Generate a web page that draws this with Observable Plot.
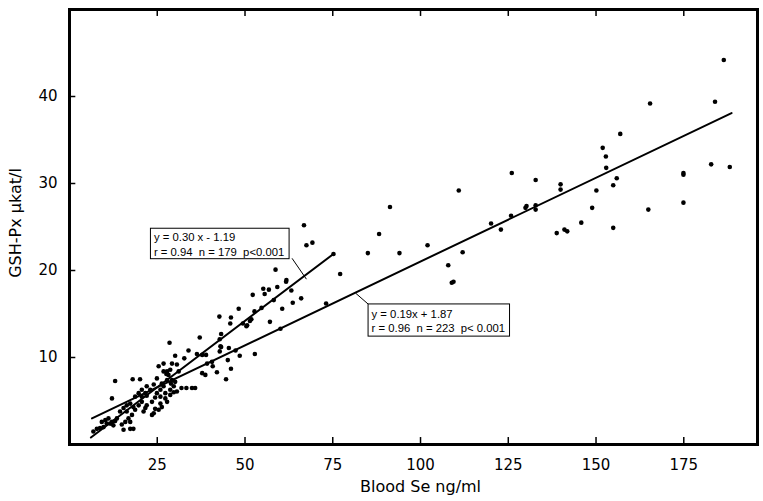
<!DOCTYPE html>
<html>
<head>
<meta charset="utf-8">
<script src="https://cdn.jsdelivr.net/npm/d3@7"></script>
<script src="https://cdn.jsdelivr.net/npm/@observablehq/plot@0.6"></script>
<style>
  html, body { margin: 0; padding: 0; background: white; }
</style>
</head>
<body>
<div id="chart"></div>
<script>
// Blood Se (ng/ml) vs GSH-Px (µkat/l)
const pointsX = [
  186.4,165.4,183.9,156.9,151.9,152.8,152.9,155.9,154.9,150.1,148.9,145.8,154.9,141.8,141.0,138.8,139.9,139.9,132.8,132.8,132.8,129.9,130.2,126.0,125.8,164.9,174.9,174.9,174.9,182.8,188.1,
  110.9,91.3,88.2,102.0,85.0,94.0,75.2,77.1,112.0,107.9,108.9,109.4,120.1,122.9,
  66.8,67.5,69.2,58.7,61.8,61.7,55.2,56.8,59.2,55.6,52.2,63.2,66.0,63.6,58.2,60.6,54.7,52.7,48.2,46.0,42.7,45.8,51.8,51.4,49.4,50.6,57.1,60.1,43.2,42.8,37.1,43.2,45.4,33.9,73.1,
  13.0,18.0,20.1,12.1,28.5,30.1,29.2,30.6,27.8,28.7,31.1,32.7,36.3,37.8,38.9,39.2,40.6,37.8,38.7,40.8,42.0,44.6,46.0,45.1,42.8,43.0,47.3,48.5,50.4,52.8,
  24.9,26.3,28.2,24.0,22.0,20.6,23.0,21.6,19.7,18.7,24.4,25.9,27.3,28.7,29.7,30.6,31.9,33.3,34.9,28.7,27.8,25.9,23.5,22.0,24.4,23.5,21.1,20.6,19.7,18.2,17.3,16.3,15.4,14.4,16.3,17.8,16.8,15.9,17.3,15.4,17.3,18.2,14.9,13.0,12.1,11.1,10.2,9.2,10.6,9.7,8.7,7.8,6.8,12.5,11.6,13.5,29.2,30.1,28.9,29.7,35.8,25.9,24.9,27.3,26.8,22.0,20.6,25.4,26.3,24.0,21.6,18.7,27.6,26.8,27.8,25.4,26.8
];
const pointsY = [
  44.2,39.2,39.4,35.7,34.1,33.1,31.8,30.6,29.8,29.2,27.2,25.5,24.9,24.5,24.7,24.3,29.9,29.3,30.4,27.5,27.0,27.2,27.4,31.2,26.3,27.0,31.2,31.0,27.8,32.2,31.9,
  29.2,27.3,24.2,22.9,22.0,22.0,21.9,19.6,22.1,20.6,18.6,18.7,25.4,24.7,
  25.2,22.9,23.2,20.1,18.9,18.7,17.9,17.8,18.1,17.3,17.2,17.7,16.8,16.3,16.6,15.6,15.7,15.3,15.6,14.6,14.7,13.9,14.4,14.2,13.9,13.7,14.1,13.3,12.7,12.1,12.3,11.2,11.1,10.8,16.2,
  7.3,7.5,7.5,5.3,11.7,10.2,9.3,9.2,8.4,8.6,8.4,9.9,10.4,10.3,10.3,9.3,9.5,8.2,8.0,9.0,8.3,7.5,8.7,9.7,10.7,11.3,10.8,10.2,13.6,10.4,
  7.6,7.0,8.0,6.9,6.7,6.3,6.3,5.9,5.9,5.5,5.4,5.5,5.3,5.7,6.0,6.1,6.5,6.5,6.5,6.3,4.9,4.7,4.9,4.5,4.1,3.4,3.8,4.9,4.5,4.3,4.7,4.5,4.2,3.8,3.8,3.4,3.0,2.6,2.6,1.7,1.8,1.8,2.3,2.7,2.6,3.0,2.8,2.6,2.4,2.0,1.9,1.8,1.5,2.2,2.4,3.0,7.4,7.2,7.0,6.7,6.5,6.3,5.9,5.9,6.7,5.6,5.5,4.0,4.3,3.6,4.2,4.0,8.1,8.4,7.4,9.0,9.3
];

// Regression lines (end points)
const fitSteepX = [6.1, 75.2];
const fitSteepY = [0.8, 21.9];
const fitFlatX = [6.4, 188.6];
const fitFlatY = [3.0, 38.1];

// Tick values
const xTicks = [25, 50, 75, 100, 125, 150, 175];
const yTicks = [10, 20, 30, 40];

// Annotation boxes
const noteText = [
  "y = 0.30 x - 1.19\nr = 0.94  n = 179  p<0.001",
  "y = 0.19x + 1.87\nr = 0.96  n = 223  p< 0.001"
];
const noteX1 = [23.2, 85.2];
const noteX2 = [62.7, 125.5];
const noteYTop = [24.8, 16.1];
const noteYBottom = [21.3, 12.4];
const noteYMid = [23.05, 14.25];
// leader lines: from box corner to regression line
const leaderX1 = [63.4, 85.2];
const leaderY1 = [21.4, 16.1];
const leaderX2 = [67.5, 81.5];
const leaderY2 = [19.0, 17.4];

const points = pointsX.map((x, i) => ({x, y: pointsY[i]}));
const steep = fitSteepX.map((x, i) => ({x, y: fitSteepY[i]}));
const flat = fitFlatX.map((x, i) => ({x, y: fitFlatY[i]}));
const notes = noteText.map((t, i) => ({
  text: t, x1: noteX1[i], x2: noteX2[i], yt: noteYTop[i], yb: noteYBottom[i], ym: noteYMid[i],
  lx1: leaderX1[i], ly1: leaderY1[i], lx2: leaderX2[i], ly2: leaderY2[i]
}));

const chart = Plot.plot({
  width: 763,
  height: 501,
  marginLeft: 69,
  marginRight: 6,
  marginTop: 9,
  marginBottom: 57,
  x: {domain: [0, 196]},
  y: {domain: [0, 50]},
  style: {fontFamily: "DejaVu Sans", background: "white", color: "black"},
  marks: [
    Plot.axisX({ticks: xTicks, tickSize: 0, tickPadding: 15, fontSize: 15, label: null}),
    Plot.axisY({ticks: yTicks, tickSize: 0, tickPadding: 12, fontSize: 15, label: null}),
    Plot.ruleX(xTicks, {x: d => d, y1: 0, y2: 0.8, stroke: "black", strokeWidth: 1.5}),
    Plot.ruleX(xTicks, {x: d => d, y1: 50, y2: 49.2, stroke: "black", strokeWidth: 1.5}),
    Plot.ruleY(yTicks, {y: d => d, x1: 0, x2: 1.8, stroke: "black", strokeWidth: 1.5}),
    Plot.dot(points, {x: "x", y: "y", r: 2.3, fill: "black", stroke: "none"}),
    Plot.line(steep, {x: "x", y: "y", stroke: "black", strokeWidth: 2}),
    Plot.line(flat, {x: "x", y: "y", stroke: "black", strokeWidth: 2}),
    Plot.link(notes, {x1: "lx1", y1: "ly1", x2: "lx2", y2: "ly2", stroke: "black", strokeWidth: 1}),
    Plot.rect(notes, {x1: "x1", x2: "x2", y1: "yb", y2: "yt", fill: "white", stroke: "black", strokeWidth: 1}),
    Plot.text(notes, {x: "x1", y: "ym", text: "text", textAnchor: "start", dx: 3, fontSize: 11.3, lineHeight: 1.25, fontFamily: "Liberation Sans", fill: "black"}),
    Plot.text(["Blood Se ng/ml"], {x: () => 100, frameAnchor: "bottom", dy: 47, fontSize: 16, fill: "black"}),
    Plot.text(["GSH-Px µkat/l"], {frameAnchor: "left", textAnchor: "middle", dx: -54, dy: -4, rotate: -90, fontSize: 16, fill: "black"}),
    Plot.frame({stroke: "black", strokeWidth: 3})
  ]
});
document.getElementById("chart").appendChild(chart);
</script>
</body>
</html>
